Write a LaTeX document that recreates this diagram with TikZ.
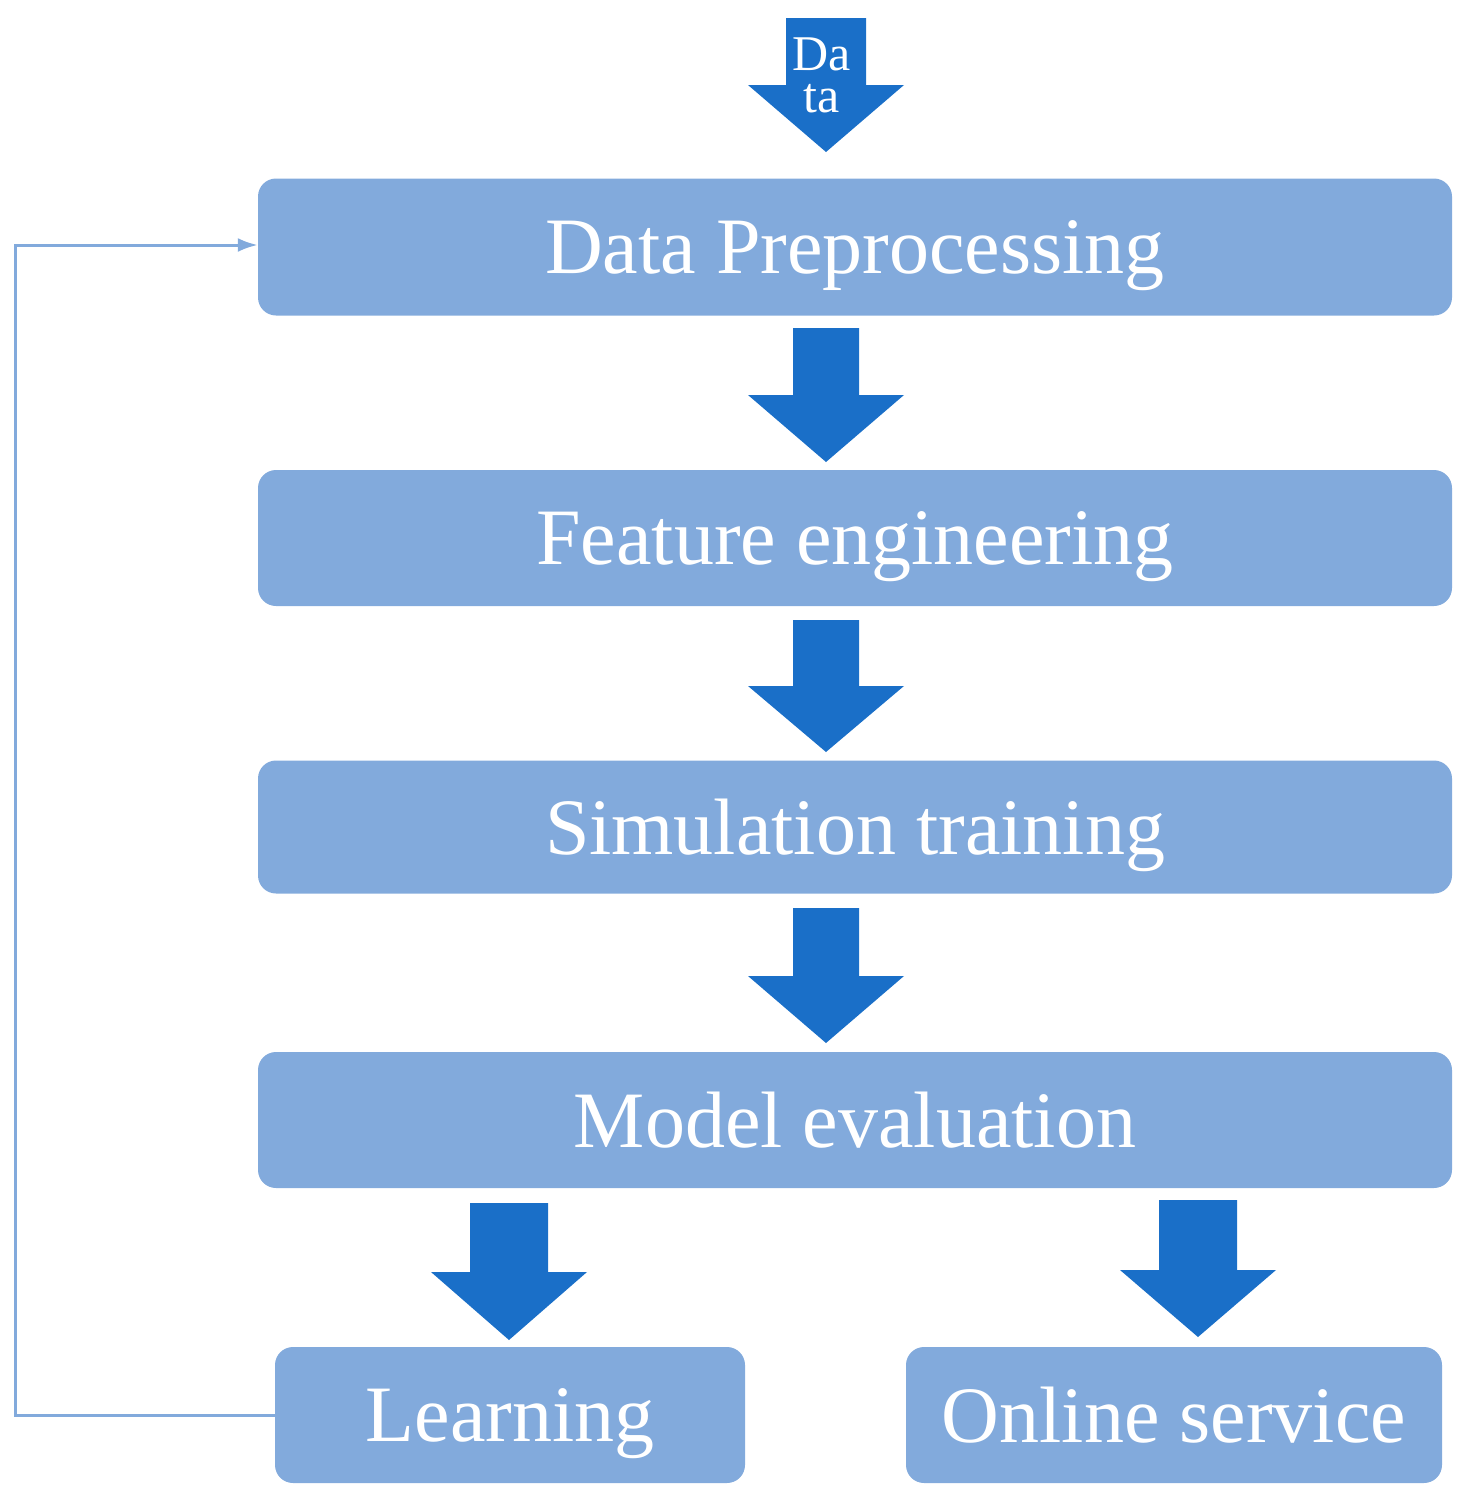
\documentclass[tikz,border=0pt]{standalone}
\usepackage{fontspec}
\setmainfont{Liberation Serif}
\usetikzlibrary{arrows.meta}
\definecolor{boxc}{HTML}{82AADC}
\definecolor{arrc}{HTML}{1A6FC8}
\begin{document}
\begin{tikzpicture}[x=1pt,y=-1pt,
 box/.style={fill=boxc,draw=none,rounded corners=18pt,text=white,font=\fontsize{80}{86}\selectfont,text depth=0pt},
 fat/.style={fill=arrc,draw=none}]
\useasboundingbox (0,0) rectangle (1468,1505);
\newcommand{\fatarrow}[5]{% cx, shaft half, top, head start, tip
 \fill[fat] (#1-#2,#3) -- (#1+#2,#3) -- (#1+#2,#4) -- (#1+78,#4) -- (#1,#5) -- (#1-78,#4) -- (#1-#2,#4) -- cycle;}
\fatarrow{826}{40}{18}{85}{152}
\node[text=white,font=\fontsize{50}{42}\selectfont,align=center] (d) at (822,75) {Da\\ta};
\node[box,minimum width=1194pt,minimum height=137pt] (p) at (855,247) {Data Preprocessing};
\fatarrow{826}{33}{328}{395}{462}
\node[box,minimum width=1194pt,minimum height=136pt] (f) at (855,538) {Feature engineering};
\fatarrow{826}{33}{620}{686}{752}
\node[box,minimum width=1194pt,minimum height=133pt] (s) at (855,827) {Simulation training};
\fatarrow{826}{33}{908}{976}{1043}
\node[box,minimum width=1194pt,minimum height=136pt] (m) at (855,1120) {Model evaluation};
\fatarrow{509}{39}{1203}{1272}{1340}
\fatarrow{1198}{39}{1200}{1270}{1337}
\node[box,minimum width=470pt,minimum height=136pt] (l) at (510,1415) {Learning};
\node[box,minimum width=536pt,minimum height=136pt] (o) at (1174,1415) {Online service};
\draw[boxc,line width=3pt,-{Latex[length=20pt,width=14pt]}] (l.west) -- (15,1415) -- (15,245) -- (p.west|-0,245);
\end{tikzpicture}
\end{document}
